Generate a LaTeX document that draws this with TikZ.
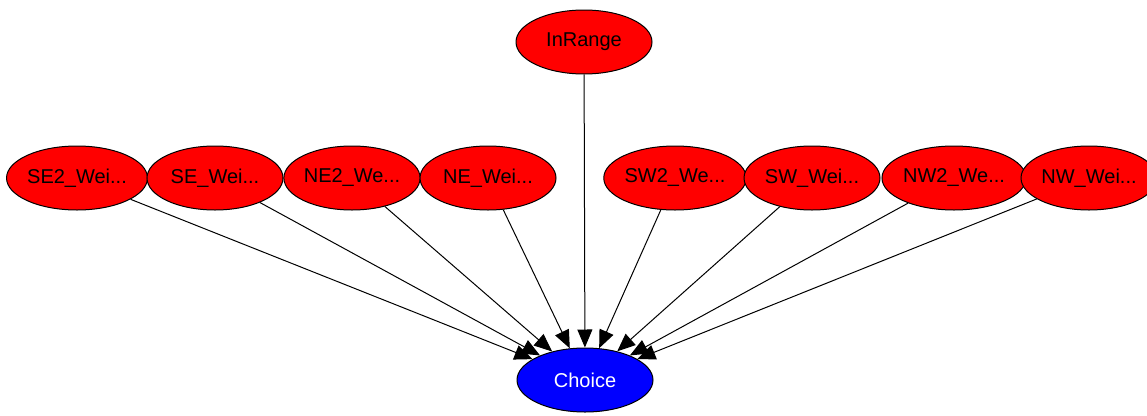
\documentclass[tikz,border=0pt]{standalone}
\usepackage{fontspec}
\setmainfont{Liberation Sans}
\usetikzlibrary{shapes.geometric,arrows.meta}
\begin{document}
\begin{tikzpicture}[x=1pt,y=-1pt,
  varnode/.style={ellipse,draw=black,line width=1pt,fill=red,
    minimum width=136pt,minimum height=64pt,inner sep=0pt,
    font=\fontsize{20}{24}\selectfont},
  target/.style={varnode,fill=blue,text=white},
  link/.style={draw=black,line width=1pt,
    -{Triangle[length=18pt,width=15pt]}}]
\useasboundingbox (0,0) rectangle (1147,415);
\clip (0,0) rectangle (1147,415);

% parent variables
\node[varnode] (inrange) at (584,42) {InRange};
\node[varnode] (se2) at (77,178) {SE2\_Wei...};
\node[varnode] (se)  at (215,178) {SE\_Wei...};
\node[varnode] (ne2) at (352,178) {NE2\_We...};
\node[varnode] (ne)  at (488,178) {NE\_Wei...};
\node[varnode] (sw2) at (675,178) {SW2\_We...};
\node[varnode] (sw)  at (812,178) {SW\_Wei...};
\node[varnode] (nw2) at (954,178) {NW2\_We...};
\node[varnode] (nw)  at (1089,178) {NW\_Wei...};

% child variable
\node[target] (choice) at (585,380) {Choice};

% dependencies
\foreach \p in {se2,se,ne2,ne,inrange,sw2,sw,nw2,nw}
  \draw[link] (\p) -- (choice);
\end{tikzpicture}
\end{document}
